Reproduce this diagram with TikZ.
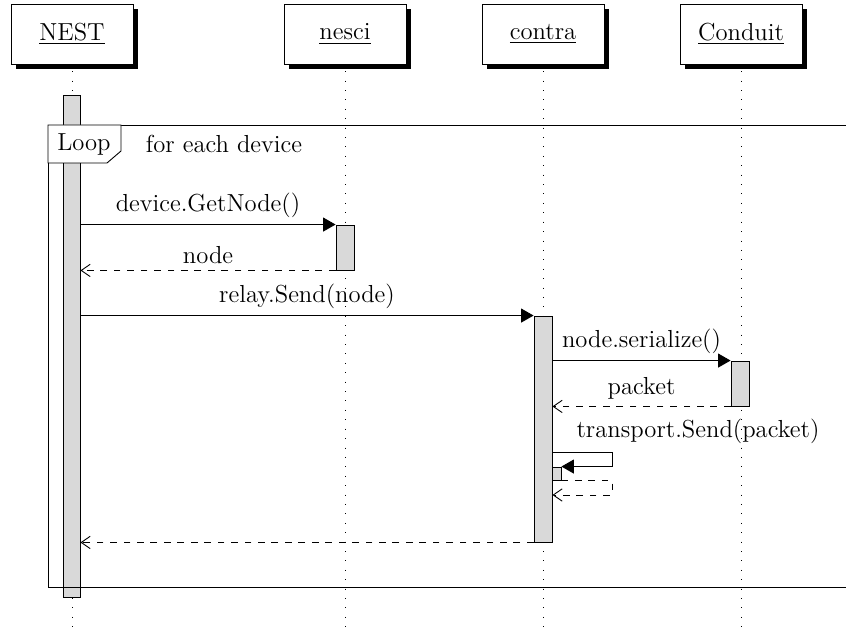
\documentclass[tikz,border=0pt]{standalone}
\usepackage{tikz}
\usetikzlibrary{arrows.meta,shadows,fit}

\begin{document}
\begin{tikzpicture}[x=0.4464pt,y=-0.4464pt,font=\fontsize{11}{13.6}\selectfont,
  obj/.style={draw,fill=white,minimum width=54.5pt,minimum height=26.8pt,inner sep=0pt,
    drop shadow={shadow xshift=2.2pt,shadow yshift=-2.2pt,fill=black,opacity=1}},
  life/.style={dash pattern=on 0.4pt off 3.8pt},
  act/.style={draw,fill=gray!30,inner sep=0pt},
  call/.style={-{Triangle[length=5.5pt,width=6.2pt]}},
  ret/.style={dashed,-{Straight Barb[length=4pt,width=5.5pt]}},
  lbl/.style={midway,above,inner sep=2.8pt}]
\clip (0,0) rectangle (846,635);

% objects and their lifelines
\node[obj] (NEST) at (72,34) {\underline{NEST}};
\node[obj] (nesci) at (345,34) {\underline{nesci}};
\node[obj] (contra) at (543,34) {\underline{contra}};
\node[obj] (Conduit) at (741,34) {\underline{Conduit}};
\draw[life] ([yshift=-3pt]NEST.south) -- (NEST.south |- 0,640);
\draw[life] ([yshift=-3pt]nesci.south) -- (nesci.south |- 0,640);
\draw[life] ([yshift=-3pt]contra.south) -- (contra.south |- 0,640);
\draw[life] ([yshift=-3pt]Conduit.south) -- (Conduit.south |- 0,640);

% activations
\node[act,fit={(63,95) (80,597)}] (nestact) {};
\node[act,fit={(336,225) (354,270)}] (nesciact) {};
\node[act,fit={(534,316) (552,542)}] (contraact) {};
\node[act,fit={(731,361) (749,406)}] (conduitact) {};
\node[act,fit={(552,467) (561,480)}] (selfact) {};

% loop frame
\draw (48,125) rectangle (880,587);
\draw[fill=white] (48,125) -- (121,125) -- (121,151) -- (107,163) -- (48,163) -- cycle;
\node (looptag) at (84,144) {Loop};
\node (loopcond) at (224,144) {for each device};

% messages
\draw[call] (nestact.east |- nesciact.north) -- node[lbl] {device.GetNode()} (nesciact.north west);
\draw[ret] (nesciact.south west) -- node[lbl] {node} (nestact.east |- nesciact.south);
\draw[call] (nestact.east |- contraact.north) -- node[lbl] {relay.Send(node)} (contraact.north west);
\draw[call] (contraact.east |- conduitact.north) -- node[lbl] {node.serialize()} (conduitact.north west);
\draw[ret] (conduitact.south west) -- node[lbl] {packet} (contraact.east |- conduitact.south);
\coordinate (selfout) at (612,452);
\coordinate (selfback) at (612,495);
\node (selflbl) at (698,431) {transport.Send(packet)};
\draw[call] (contraact.east |- selfout) -- (selfout) |- (selfact.north east);
\draw[ret] (selfact.south east) -| (selfback) -- (contraact.east |- selfback);
\draw[ret] (contraact.south west) -- (nestact.east |- contraact.south);
\end{tikzpicture}
\end{document}
